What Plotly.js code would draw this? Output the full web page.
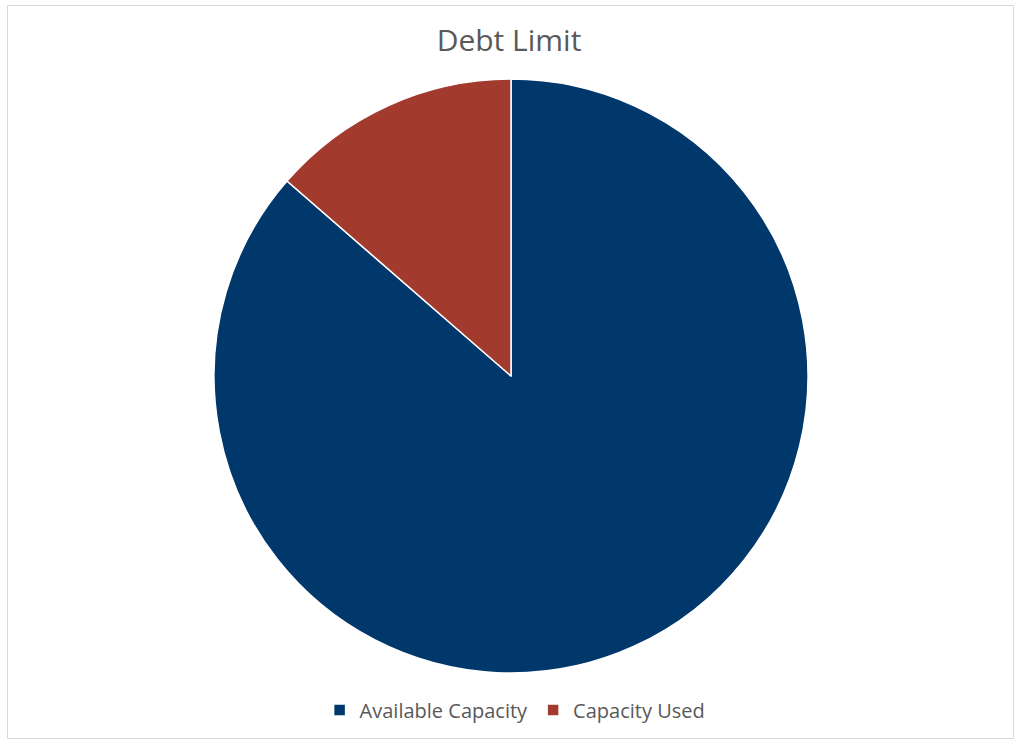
<!DOCTYPE html>
<html>
<head>
<meta charset="utf-8">
<script src="https://cdn.plot.ly/plotly-3.0.1.min.js"></script>
<style>
html,body{margin:0;padding:0;background:#fff;}
#chart{width:1018px;height:745px;}
</style>
</head>
<body>
<div id="chart"></div>
<script>
const labels = ["Available Capacity", "Capacity Used"];
const values = [86.4, 13.6];
const colors = ["#00386B", "#A23B2E"];

const W = 1018, H = 745;
const data = [{
  type: "pie",
  labels: labels,
  values: values,
  sort: false,
  direction: "clockwise",
  rotation: 0,
  textinfo: "none",
  hoverinfo: "label+percent",
  marker: {colors: colors, line: {color: "#ffffff", width: 1.5}},
  domain: {x: [214 / W, 808 / W], y: [1 - 673 / H, 1 - 79 / H]}
}];

const layout = {
  width: W, height: H,
  margin: {l: 0, r: 0, t: 0, b: 0},
  paper_bgcolor: "#ffffff",
  title: {
    text: "Debt Limit",
    font: {family: "Open Sans, sans-serif", size: 30, color: "#595959"},
    x: 0.5, xanchor: "center", y: 1 - 40 / H, yanchor: "middle"
  },
  showlegend: true,
  legend: {
    orientation: "h",
    x: 0.506, xanchor: "center",
    y: 1 - 710 / H, yanchor: "middle",
    font: {family: "Open Sans, sans-serif", size: 20, color: "#595959"},
    itemwidth: 30
  },
  shapes: [{
    type: "rect", xref: "paper", yref: "paper",
    x0: 7.5 / W, x1: 1013.5 / W, y0: 1 - 738.5 / H, y1: 1 - 5.5 / H,
    line: {color: "#D9D9D9", width: 1}, fillcolor: "rgba(0,0,0,0)", layer: "below"
  }]
};

Plotly.newPlot("chart", data, layout, {displayModeBar: false});
</script>
</body>
</html>
